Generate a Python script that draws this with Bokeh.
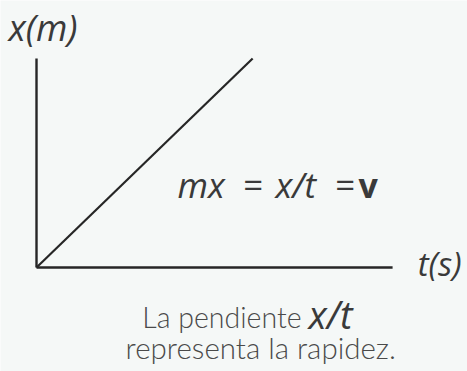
from bokeh.plotting import figure
from bokeh.models import Range1d
from bokeh.core.properties import value
from bokeh.embed import file_html
from bokeh.resources import INLINE

# Position-time diagram: uniform motion, straight line through the origin
t_axis = [0, 10.79]         # horizontal axis, time
x_axis = [0, 6.33]          # vertical axis, position
line_t = [0, 6.55]          # motion line
line_x = [0, 6.33]

axis_label_x = "x(m)"
axis_label_t = "t(s)"
equation_tokens = ["mx", "=", "x/t", "="]
equation_value = "v"
caption_1 = "La pendiente"
caption_1_math = "x/t"
caption_2 = "representa la rapidez."

BG = "#f5f8f7"
INK = "#262626"
TEXT = "#3a3a3a"
CAP = "#4a4a4a"

p = figure(width=467, height=371, output_backend="svg", toolbar_location=None,
           x_range=Range1d(-1.091, 13.06), y_range=Range1d(-3.152, 8.09),
           min_border=0, background_fill_color=BG, border_fill_color=BG,
           outline_line_color=None)
p.axis.visible = False
p.grid.visible = False

# axes
p.line([t_axis[0], t_axis[0]], x_axis, line_color=INK, line_width=2.4)
p.line(t_axis, [x_axis[0], x_axis[0]], line_color=INK, line_width=2.4)
# motion line
p.line(line_t, line_x, line_color=INK, line_width=2.2)

ital = dict(text_font=value("Open Sans"), text_font_style="italic",
            text_color=TEXT, text_baseline="middle", text_align="left")

# axis names
p.text(x=[-0.85], y=[7.28], text=[axis_label_x], text_font_size="36px", **ital)
p.text(x=[11.55], y=[0.12], text=[axis_label_t], text_font_size="33px", **ital)

# slope relation
p.text(x=[4.27, 6.24, 7.24, 9.03], y=[2.50] * 4, text=equation_tokens,
       text_font_size="35px", **ital)
p.text(x=[9.76], y=[2.50], text=[equation_value], text_font_size="34px",
       text_font=value("Open Sans"), text_font_style="bold", text_color=TEXT,
       text_baseline="middle", text_align="left")

# caption
cap = dict(text_font=value("Lato Light, Lato"), text_color=CAP,
           text_baseline="middle")
p.text(x=[8.03], y=[-1.50], text=[caption_1], text_align="right",
       text_font_size="28.5px", **cap)
p.text(x=[8.24], y=[-1.42], text=[caption_1_math], text_font_size="38px", **ital)
p.text(x=[2.70], y=[-2.41], text=[caption_2], text_align="left",
       text_font_size="29.5px", **cap)

open("out.html", "w").write(file_html(p, INLINE))
